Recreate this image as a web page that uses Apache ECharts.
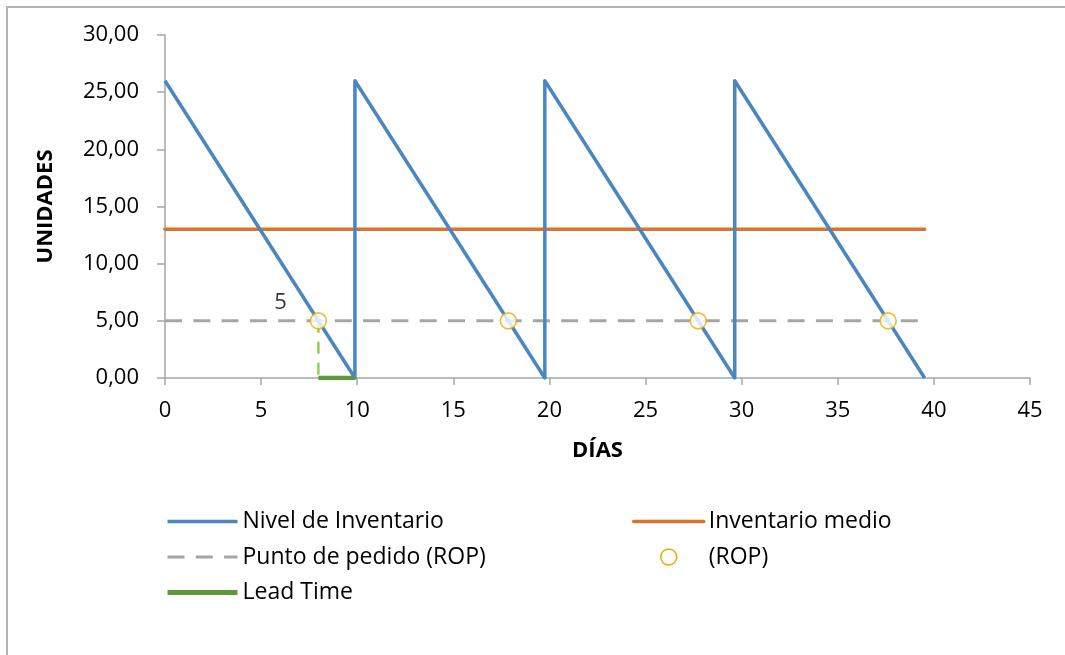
<!DOCTYPE html>
<html>
<head>
<meta charset="utf-8">
<script src="https://cdn.jsdelivr.net/npm/echarts@6/dist/echarts.min.js"></script>
<style>
  html, body { margin: 0; padding: 0; background: #fff; }
  #frame { position: absolute; left: 6px; top: 6px; width: 1100px; height: 700px;
           border-left: 2px solid #b3b3b3; border-top: 2px solid #b3b3b3; box-sizing: border-box; }
  #chart { position: absolute; left: 0; top: 0; width: 1065px; height: 655px; }
</style>
</head>
<body>
<div id="frame"></div>
<div id="chart"></div>
<script>
// Inventory model: order quantity, reorder point, cycle length and lead time
const orderQty = 26;
const averageStock = 13;
const reorderPoint = 5;
const cycleDays = [0, 9.88, 19.76, 29.64, 39.52];
const ropDays = [7.98, 17.86, 27.74, 37.62];
const leadTimeDays = [7.98, 9.88];
const xTicks = { min: 0, max: 45, step: 5 };
const yTicks = { min: 0, max: 30, step: 5 };

// Saw-tooth inventory level: refill to orderQty at each cycle start, drain to zero at its end
const inventoryLevel = [[cycleDays[0], orderQty]];
for (let i = 1; i < cycleDays.length; i++) {
  inventoryLevel.push([cycleDays[i], 0]);
  if (i < cycleDays.length - 1) inventoryLevel.push([cycleDays[i], orderQty]);
}
const lastDay = cycleDays[cycleDays.length - 1];

const FONT = 'Open Sans';
const BLUE = '#4a87c1', ORANGE = '#dd712e', GREY = '#a5a5a5', GREEN = '#5e9a3a', GOLD = '#e8ad00';
const legendText = { fontFamily: FONT, fontSize: 23, color: '#000', padding: 0 };
const legendBase = {
  orient: 'vertical', top: 510, padding: 0, itemWidth: 70, itemHeight: 16, itemGap: 12.5,
  textStyle: legendText, itemStyle: { opacity: 0 }
};

const chart = echarts.init(document.getElementById('chart'), null, { renderer: 'canvas' });

chart.setOption({
  animation: false,
  backgroundColor: 'transparent',
  textStyle: { fontFamily: FONT },
  grid: { left: 165, right: 35, top: 35, bottom: 277, containLabel: false },
  legend: [
    Object.assign({}, legendBase, {
      left: 165,
      data: [
        { name: 'Nivel de Inventario', lineStyle: { width: 3.5 } },
        { name: 'Punto de pedido (ROP)', lineStyle: { width: 3 } },
        { name: 'Lead Time', lineStyle: { width: 5 } }
      ]
    }),
    Object.assign({}, legendBase, {
      left: 632,
      data: [
        { name: 'Inventario medio', lineStyle: { width: 3.5 } },
        { name: '(ROP)', itemStyle: { opacity: 1, color: '#fff', borderColor: GOLD, borderWidth: 1.5 } }
      ]
    })
  ],
  xAxis: {
    type: 'value', min: xTicks.min, max: xTicks.max, interval: xTicks.step,
    name: 'DÍAS', nameLocation: 'middle', nameGap: 62,
    nameTextStyle: { fontFamily: FONT, fontSize: 22, fontWeight: 'bold', color: '#000' },
    axisLine: { show: true, onZero: false, lineStyle: { color: '#a6a6a6', width: 1.5 } },
    axisTick: { show: true, length: 7, lineStyle: { color: '#a6a6a6', width: 1.5 } },
    axisLabel: { fontFamily: FONT, fontSize: 22, color: '#000', margin: 22 },
    splitLine: { show: false }
  },
  yAxis: {
    type: 'value', min: yTicks.min, max: yTicks.max, interval: yTicks.step,
    name: 'UNIDADES', nameLocation: 'middle', nameGap: 108, nameRotate: 90,
    nameTextStyle: { fontFamily: FONT, fontSize: 22, fontWeight: 'bold', color: '#000' },
    axisLine: { show: true, lineStyle: { color: '#a6a6a6', width: 1.5 } },
    axisTick: { show: true, length: 8, lineStyle: { color: '#a6a6a6', width: 1.5 } },
    axisLabel: {
      fontFamily: FONT, fontSize: 22, color: '#000', margin: 26,
      formatter: v => v.toFixed(2).replace('.', ',')
    },
    splitLine: { show: false }
  },
  series: [
    {
      name: 'Inventario medio', type: 'line', symbol: 'none',
      data: [[cycleDays[0], averageStock], [lastDay, averageStock]],
      lineStyle: { color: ORANGE, width: 3.5, cap: 'round' },
      itemStyle: { color: ORANGE }, z: 2
    },
    {
      name: 'Punto de pedido (ROP)', type: 'line', symbol: 'none',
      data: [[cycleDays[0], reorderPoint], [lastDay, reorderPoint]],
      lineStyle: { color: GREY, width: 3, type: [17, 11.3] },
      itemStyle: { color: GREY }, z: 2
    },
    {
      name: 'lead-time-marker', type: 'line', symbol: 'none',
      data: [[leadTimeDays[0], reorderPoint], [leadTimeDays[0], 0]],
      lineStyle: { color: '#92d050', width: 2.5, type: [12, 9] },
      z: 2
    },
    {
      name: 'Nivel de Inventario', type: 'line', symbol: 'none',
      data: inventoryLevel,
      lineStyle: { color: BLUE, width: 3.5, join: 'round' },
      itemStyle: { color: BLUE }, z: 3
    },
    {
      name: 'Lead Time', type: 'line', symbol: 'none',
      data: leadTimeDays.map(d => [d, 0]),
      lineStyle: { color: GREEN, width: 4.5 },
      itemStyle: { color: GREEN }, z: 4
    },
    {
      name: '(ROP)', type: 'scatter', symbol: 'circle', symbolSize: 16,
      data: ropDays.map(d => [d, reorderPoint]),
      itemStyle: { color: '#ffffff', borderColor: GOLD, borderWidth: 1.6 },
      label: {
        show: true,
        formatter: p => (p.dataIndex === 0 ? String(reorderPoint) : ''),
        position: [-29, -9], align: 'center', verticalAlign: 'middle',
        fontFamily: FONT, fontSize: 22, color: '#000'
      },
      z: 5
    }
  ]
});
</script>
</body>
</html>
